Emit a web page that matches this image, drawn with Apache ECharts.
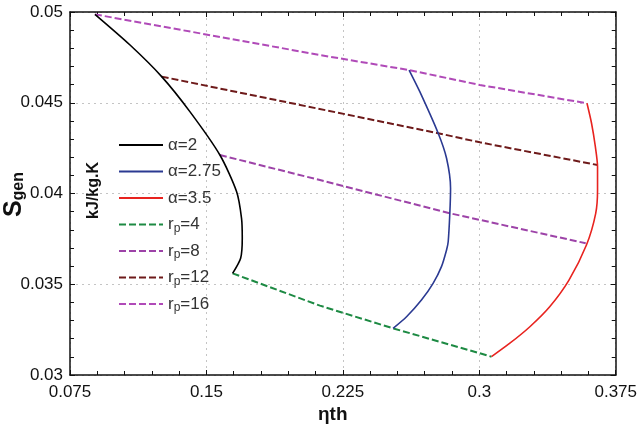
<!DOCTYPE html>
<html>
<head>
<meta charset="utf-8">
<script src="https://cdn.jsdelivr.net/npm/echarts@6/dist/echarts.min.js"></script>
<style>
  html, body { margin: 0; padding: 0; background: #fff; }
  #main { width: 640px; height: 428px; }
</style>
</head>
<body>
<div id="main"></div>
<script>
// values (eta_th, S_gen)
const alpha2Eta = [0.0887, 0.1080, 0.1254, 0.1409, 0.1574, 0.1666, 0.1693, 0.1697, 0.1688, 0.1644]
const alpha2Sgen = [0.04987, 0.04818, 0.04644, 0.04451, 0.04212, 0.0401, 0.03863, 0.03753, 0.03643, 0.0356]

const alpha275Eta = [0.2614, 0.2673, 0.2774, 0.2820, 0.2842, 0.2838, 0.2829, 0.2820, 0.2792, 0.2746, 0.2682, 0.2600, 0.2526]
const alpha275Sgen = [0.0468, 0.04561, 0.04332, 0.04194, 0.04029, 0.03891, 0.03734, 0.03689, 0.03597, 0.03505, 0.03413, 0.03321, 0.03257]

const alpha35Eta = [0.3592, 0.3617, 0.3638, 0.3650, 0.3650, 0.3640, 0.3589, 0.3493, 0.3387, 0.3278, 0.3168, 0.3067]
const alpha35Sgen = [0.04497, 0.04387, 0.04258, 0.04148, 0.04019, 0.03891, 0.03716, 0.03523, 0.03376, 0.03266, 0.03175, 0.03101]

const rp4Eta = [0.1644, 0.2124, 0.2526, 0.3067]
const rp4Sgen = [0.0356, 0.03382, 0.03257, 0.03101]

const rp8Eta = [0.1574, 0.2124, 0.2838, 0.3585]
const rp8Sgen = [0.04212, 0.04074, 0.03891, 0.03726]

const rp12Eta = [0.1254, 0.2774, 0.3003, 0.3650]
const rp12Sgen = [0.04644, 0.04332, 0.04282, 0.04157]

const rp16Eta = [0.0887, 0.2124, 0.2614, 0.3003, 0.3592]
const rp16Sgen = [0.04987, 0.04763, 0.0468, 0.04598, 0.04497]

const xTicks = [0.075, 0.15, 0.225, 0.3, 0.375]
const yTicks = [0.03, 0.035, 0.04, 0.045, 0.05]

const zip = (xs, ys) => xs.map((x, i) => [x, ys[i]])

const chart = echarts.init(document.getElementById('main'))

const font = 'Liberation Sans, Arial, sans-serif'

const line = (name, xs, ys, color, dashed) => ({
  name: name,
  type: 'line',
  data: zip(xs, ys),
  symbol: 'none',
  smooth: dashed ? false : 0.25,
  lineStyle: { color: color, width: dashed ? 2 : 1.6, type: dashed ? [7, 3] : 'solid' },
  itemStyle: { color: color },
  z: dashed ? 2 : 3
})

const axisBase = {
  type: 'value',
  axisLine: { show: true, lineStyle: { color: '#111', width: 1.5 } },
  axisTick: { show: true, inside: true, length: 5, lineStyle: { color: '#111' } },
  minorTick: { show: true, splitNumber: 5, length: 4, lineStyle: { color: '#111' } },
  minorSplitLine: { show: false }
}

const option = {
  animation: false,
  backgroundColor: '#fff',
  grid: { left: 70, right: 24, top: 12, bottom: 53 },
  xAxis: [
    Object.assign({}, axisBase, {
      min: xTicks[0], max: xTicks[xTicks.length - 1], interval: 0.075,
      axisLabel: {
        color: '#111', fontSize: 17, fontFamily: font, margin: 9,
        formatter: v => String(+v.toFixed(3))
      },
      splitLine: { show: true, lineStyle: { color: '#c4c4c4', type: [2, 4] } }
    }),
    Object.assign({}, axisBase, {
      position: 'top',
      min: xTicks[0], max: xTicks[xTicks.length - 1], interval: 0.075,
      axisLabel: { show: false },
      splitLine: { show: false }
    })
  ],
  yAxis: [
    Object.assign({}, axisBase, {
      min: yTicks[0], max: yTicks[yTicks.length - 1], interval: 0.005,
      axisLabel: {
        color: '#111', fontSize: 17, fontFamily: font, margin: 7,
        formatter: v => String(+v.toFixed(3))
      },
      splitLine: { show: true, lineStyle: { color: '#c4c4c4', type: [2, 4] } }
    }),
    Object.assign({}, axisBase, {
      position: 'right',
      min: yTicks[0], max: yTicks[yTicks.length - 1], interval: 0.005,
      axisLabel: { show: false },
      splitLine: { show: false }
    })
  ],
  legend: {
    orient: 'vertical',
    left: 113,
    top: 130,
    itemWidth: 44,
    itemHeight: 14,
    itemGap: 6.5,
    itemStyle: { opacity: 0 },
    data: ['α=2', 'α=2.75', 'α=3.5', 'rp=4', 'rp=8', 'rp=12', 'rp=16'],
    formatter: name => name.startsWith('rp') ? 'r{sub|p}' + name.slice(2) : name,
    textStyle: {
      color: '#333', fontSize: 17, lineHeight: 20, fontFamily: font,
      rich: {
        sub: { fontSize: 12, lineHeight: 11, verticalAlign: 'bottom', fontFamily: font, color: '#333' }
      }
    }
  },
  graphic: [
    {
      type: 'text', left: 2, top: 172,
      rotation: Math.PI / 2,
      style: {
        text: 'S{sub|gen}',
        font: 'bold 25px ' + font,
        fill: '#111',
        rich: { sub: { font: 'bold 16px ' + font, fill: '#111', padding: [8, 0, 0, 0] } }
      }
    },
    {
      type: 'text', left: 86, top: 162,
      rotation: Math.PI / 2,
      style: { text: 'kJ/kg.K', font: 'bold 16px ' + font, fill: '#111' }
    },
    {
      type: 'text', left: 318, top: 405,
      style: { text: 'ηth', font: 'bold 19px ' + font, fill: '#111' }
    }
  ],
  series: [
    line('α=2', alpha2Eta, alpha2Sgen, '#000000', false),
    line('α=2.75', alpha275Eta, alpha275Sgen, '#2b3a92', false),
    line('α=3.5', alpha35Eta, alpha35Sgen, '#e8231f', false),
    line('rp=4', rp4Eta, rp4Sgen, '#1d8a43', true),
    line('rp=8', rp8Eta, rp8Sgen, '#9d43a8', true),
    line('rp=12', rp12Eta, rp12Sgen, '#6e1a1a', true),
    line('rp=16', rp16Eta, rp16Sgen, '#b04ab8', true)
  ]
}

option && chart.setOption(option)
</script>
</body>
</html>
